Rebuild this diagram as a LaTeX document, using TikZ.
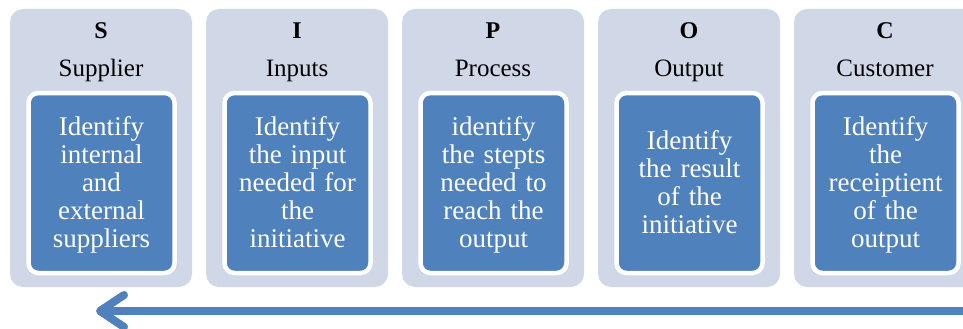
\documentclass[tikz,border=0pt]{standalone}
\usepackage{fontspec}
\setmainfont{Liberation Serif}
\usetikzlibrary{arrows.meta}
\definecolor{panelgrey}{RGB}{208,216,232}
\definecolor{stepblue}{RGB}{79,129,189}

\begin{document}
\begin{tikzpicture}[x=1pt,y=-1pt,
  panel/.style={fill=panelgrey, rounded corners=13pt, minimum width=182pt,
    minimum height=278pt, inner sep=0pt},
  detail/.style={fill=stepblue, draw=white, line width=4.5pt, rounded corners=10pt,
    minimum width=146pt, minimum height=180pt, inner sep=0pt},
  detailtext/.style={text width=144pt, align=center, text=white,
    font=\fontsize{27}{28}\selectfont, inner sep=0pt,
    execute at begin node=\strut, execute at end node=\strut},
  letter/.style={anchor=base, font=\fontsize{24}{26}\selectfont\bfseries},
  title/.style={anchor=base, font=\fontsize{25}{27}\selectfont},
  flow/.style={draw=stepblue, line width=8pt,
    -{Straight Barb[length=24pt,width=32pt,round]}}]
\useasboundingbox (0,0) rectangle (963,329);
\clip (0,0) rectangle (963,329);

% SIPOC columns
\foreach \i/\L/\name/\txt in {
  0/S/Supplier/{Identify\\internal\\and\\external\\suppliers},
  1/I/Inputs/{Identify\\the input\\needed for\\the\\initiative},
  2/P/Process/{identify\\the stepts\\needed to\\reach the\\output},
  3/O/Output/{Identify\\the result\\of the\\initiative},
  4/C/Customer/{Identify\\the\\receiptient\\of the\\output}} {
  \node[panel] (panel\i) at (101+196*\i, 148) {};
  \node[letter] (letter\i) at (101+196*\i, 38.5) {\L};
  \node[title] (title\i) at (101+196*\i, 76) {\name};
  \node[detail] (detail\i) at (101.5+196*\i, 183) {};
  \node[detailtext] (text\i) at (101.5+196*\i, 185.5) {\txt};
}

% direction arrow along the bottom
\coordinate (flowstart) at (975,311);
\coordinate (flowend) at (96,311);
\draw[flow] (flowstart) -- (flowend);
\end{tikzpicture}
\end{document}
